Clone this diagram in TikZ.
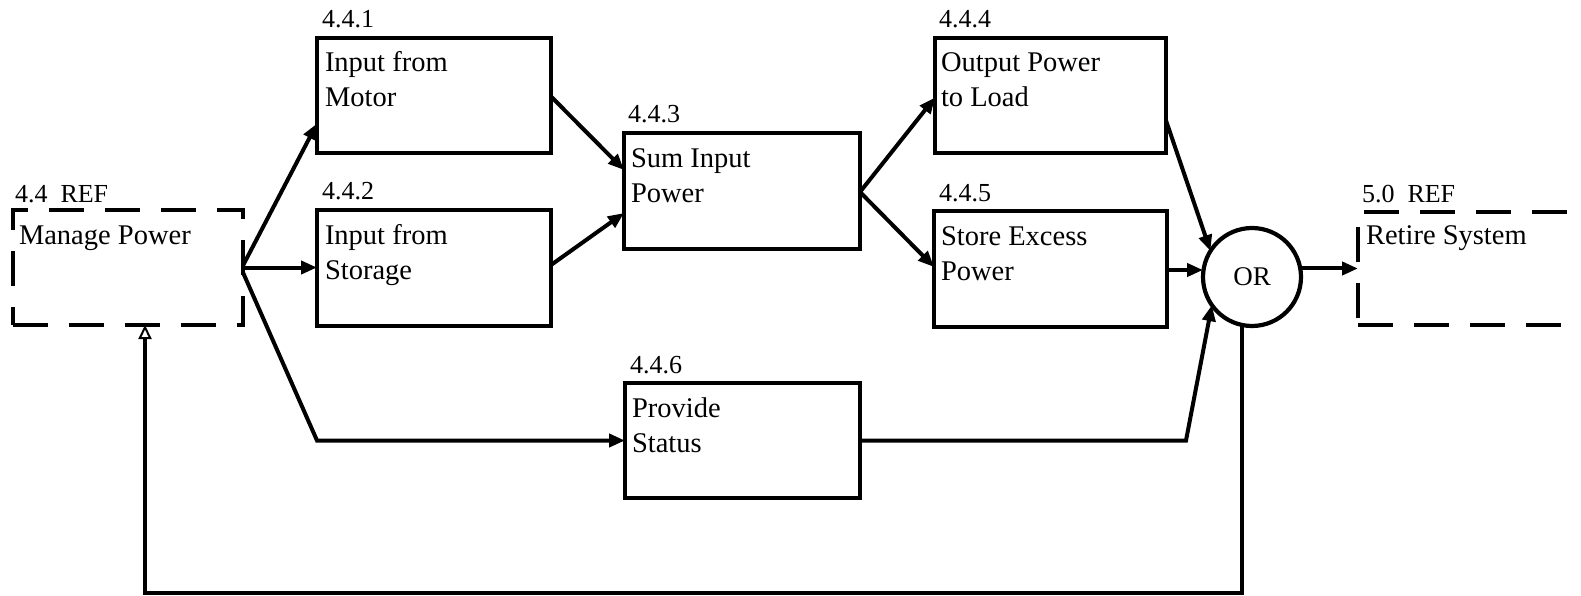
\documentclass[tikz,border=0pt]{standalone}
\usepackage{fontspec}
\setmainfont{Liberation Serif}
\usetikzlibrary{arrows.meta,calc}
\begin{document}
\begin{tikzpicture}[x=1pt,y=-1pt,
  every node/.style={outer sep=0pt},
  fbox/.style={draw,line width=4.2pt,rectangle,minimum width=234pt,minimum height=115pt,anchor=north west,inner sep=0pt},
  refbox/.style={fbox,dash pattern=on 35pt off 21pt},
  txt/.style={font=\fontsize{28.5}{35}\selectfont,align=left,anchor=base west,inner sep=0pt},
  num/.style={font=\fontsize{26}{30}\selectfont,anchor=base west,inner sep=0pt},
  conn/.style={line width=4pt,-{Triangle[length=16pt,width=13pt]}},
]
\useasboundingbox (0,0) rectangle (1581,596);
% boxes
\node[refbox,minimum width=230pt] (mp) at (13,210) {};
\node[fbox] (b1) at (317,38) {};
\node[fbox,minimum height=116pt] (b2) at (317,210) {};
\node[fbox,minimum width=236pt,minimum height=116pt] (b3) at (624,133) {};
\node[fbox,minimum width=231pt] (b4) at (935,38) {};
\node[fbox,minimum width=233pt,minimum height=116pt] (b5) at (934,211) {};
\node[fbox,minimum width=235pt] (b6) at (625,383) {};
\node[refbox,minimum width=300pt,minimum height=113pt] (rs) at (1358,212) {};
\node[draw,circle,line width=4.2pt,minimum size=98pt,inner sep=0pt,font=\fontsize{27}{30}\selectfont] (or) at (1252,277) {OR};
% numbers
\node[num] (nmp) at (15,202) {4.4\ \ REF};
\node[num] (n1) at (322,28) {4.4.1};
\node[num] (n2) at (322,200) {4.4.2};
\node[num] (n3) at (628,123) {4.4.3};
\node[num] (n4) at (939,28) {4.4.4};
\node[num] (n5) at (939,201) {4.4.5};
\node[num] (n6) at (630,373) {4.4.6};
\node[num] (nrs) at (1362,202) {5.0\ \ REF};
% texts (base anchor = baseline of last line)
\node[txt] (tmp) at (19,244) {Manage Power};
\node[txt] (t1) at (325,107) {Input from\\Motor};
\node[txt] (t2) at (325,279) {Input from\\Storage};
\node[txt] (t3) at (631,202) {Sum Input\\Power};
\node[txt] (t4) at (941,107) {Output Power\\to Load};
\node[txt] (t5) at (941,280) {Store Excess\\Power};
\node[txt] (t6) at (632,452) {Provide\\Status};
\node[txt] (trs) at (1366,244) {Retire System};
% connectors
\draw[conn] ([yshift=2pt]mp.east) -- ([yshift=-28pt]b1.west);
\draw[conn] (mp.east) -- (mp.east -| b2.west);
\draw[conn] ([yshift=-5pt]mp.east) -- (b2.west |- b6.west) -- (b6.west);
\draw[conn] ([yshift=-1pt]b1.east) -- ([yshift=21pt]b3.west);
\draw[conn] ([yshift=3pt]b2.east) -- ([yshift=-22pt]b3.west);
\draw[conn] ([yshift=-1pt]b3.east) -- ([yshift=-2pt]b4.west);
\draw[conn] ([yshift=-1pt]b3.east) -- ([yshift=2pt]b5.west);
\draw[conn] ([yshift=-25pt]b4.east) -- (or.148);
\draw[conn] ([yshift=-1pt]b5.east) -- ([yshift=-1pt]b5.east -| or.west);
\draw[conn] (b6.east) -- ++(326,0) -- (or.215);
\draw[conn] (or.10) -- (or.10 -| rs.west);
\coordinate (fb) at (145,593);
\draw[line width=4pt,-{Triangle[open,length=14pt,width=13pt,line width=2pt]}] (or.258) |- (fb) -- (fb |- mp.south);
\end{tikzpicture}
\end{document}
